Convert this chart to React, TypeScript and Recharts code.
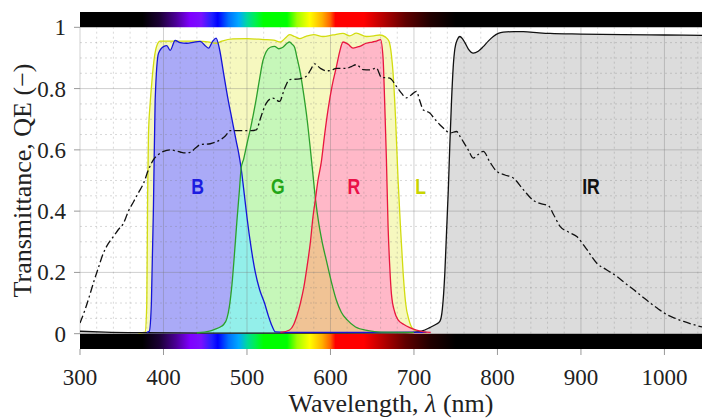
import React from 'react';
import {
  ComposedChart,
  Area,
  Line,
  XAxis,
  YAxis,
  ReferenceArea,
  ReferenceLine,
  ReferenceDot,
} from 'recharts';

// [wavelength nm, transmittance]
const blueFilter: [number, number][] = [
  [380, 0.004], [383, 0.008], [385.5, 0.1], [388, 0.42], [390, 0.76], [394, 0.915],
  [400, 0.937], [404, 0.94], [408, 0.925], [414, 0.957], [420, 0.95], [428, 0.948],
  [437, 0.952], [444, 0.954], [450, 0.94], [454, 0.932], [459, 0.955], [463, 0.965],
  [467, 0.93], [472, 0.85], [477, 0.77], [482, 0.7], [487, 0.63], [490, 0.59],
  [493, 0.54], [497, 0.45], [500, 0.38], [505, 0.28], [510, 0.2], [515, 0.145],
  [521, 0.1], [526, 0.055], [530, 0.025], [534, 0.006], [560, 0.004], [640, 0.004],
  [700, 0.005], [715, 0.004],
];

const greenFilter: [number, number][] = [
  [440, 0.003], [455, 0.008], [462, 0.015], [468, 0.022], [472, 0.03], [476, 0.05],
  [479, 0.09], [482, 0.16], [485, 0.26], [488, 0.37], [491, 0.47], [493, 0.54],
  [496, 0.57], [500, 0.62], [505, 0.68], [510, 0.75], [515, 0.83], [519, 0.89],
  [523, 0.92], [528, 0.935], [533, 0.938], [538, 0.93], [543, 0.935], [548, 0.948],
  [551, 0.952], [554, 0.945], [557, 0.935], [560, 0.9], [564, 0.85], [568, 0.78],
  [572, 0.7], [576, 0.6], [579, 0.52], [582, 0.44], [586, 0.36], [590, 0.3],
  [595, 0.24], [601, 0.17], [607, 0.11], [613, 0.07], [620, 0.045], [630, 0.022],
  [645, 0.01], [660, 0.005], [700, 0.004],
];

const redFilter: [number, number][] = [
  [540, 0.004], [551, 0.012], [556, 0.03], [560, 0.06], [564, 0.1], [568, 0.15],
  [572, 0.22], [576, 0.3], [579, 0.38], [582, 0.44], [585, 0.5], [589, 0.56],
  [593, 0.65], [597, 0.73], [602, 0.81], [607, 0.87], [611, 0.92], [615, 0.952],
  [621, 0.945], [627, 0.932], [635, 0.938], [643, 0.948], [650, 0.952], [655, 0.955],
  [660, 0.96], [663, 0.9], [665, 0.75], [667, 0.57], [669, 0.35], [671, 0.22],
  [673, 0.13], [677, 0.07], [681, 0.045], [688, 0.03], [695, 0.02], [703, 0.012],
  [712, 0.006], [720, 0.004],
];

const lumFilter: [number, number][] = [
  [370, 0.002], [378, 0.005], [380, 0.1], [381, 0.45], [382, 0.65], [384, 0.75],
  [386, 0.82], [389, 0.9], [392, 0.94], [396, 0.955], [405, 0.955], [420, 0.955],
  [440, 0.955], [455, 0.952], [463, 0.948], [470, 0.955], [483, 0.962], [500, 0.963],
  [520, 0.96], [532, 0.958], [540, 0.952], [546, 0.965], [551, 0.976], [557, 0.97],
  [563, 0.963], [570, 0.97], [580, 0.976], [591, 0.97], [603, 0.975], [615, 0.98],
  [623, 0.972], [631, 0.981], [643, 0.97], [652, 0.972], [659, 0.975], [666, 0.968],
  [670, 0.955], [673, 0.91], [675, 0.85], [678, 0.7], [681, 0.5], [684, 0.34],
  [687, 0.2], [690, 0.1], [694, 0.045], [698, 0.018], [705, 0.006], [715, 0.003],
];

const irFilter: [number, number][] = [
  [300, 0.008], [330, 0.005], [380, 0.003], [450, 0.002], [600, 0.002], [690, 0.003],
  [705, 0.006], [713, 0.012], [719, 0.02], [726, 0.03], [731, 0.04], [734, 0.08],
  [737, 0.2], [739, 0.33], [741, 0.46], [743, 0.62], [745, 0.76], [747, 0.87],
  [749, 0.93], [752, 0.96], [755, 0.97], [758, 0.963], [761, 0.95], [765, 0.93],
  [771, 0.916], [777, 0.922], [783, 0.937], [789, 0.955], [795, 0.97], [801, 0.98],
  [807, 0.984], [820, 0.986], [831, 0.986], [850, 0.982], [863, 0.98], [900, 0.978],
  [950, 0.976], [1000, 0.975], [1045, 0.974],
];

const sensorQE: [number, number][] = [
  [300, 0.035], [306, 0.078], [311, 0.12], [316, 0.165], [322, 0.215], [328, 0.263],
  [334, 0.295], [340, 0.317], [346, 0.34], [352, 0.36], [358, 0.4], [364, 0.43],
  [370, 0.46], [376, 0.49], [382, 0.535], [388, 0.568], [394, 0.585], [400, 0.595],
  [408, 0.6], [414, 0.597], [420, 0.593], [426, 0.59], [432, 0.592], [438, 0.605],
  [444, 0.617], [456, 0.62], [462, 0.625], [468, 0.633], [474, 0.645], [480, 0.663],
  [492, 0.663], [505, 0.663], [511, 0.665], [517, 0.71], [523, 0.752], [531, 0.769],
  [539, 0.758], [545, 0.8], [551, 0.829], [563, 0.832], [571, 0.84], [576, 0.86],
  [581, 0.881], [588, 0.866], [595, 0.858], [601, 0.86], [607, 0.866], [619, 0.866],
  [625, 0.872], [631, 0.878], [639, 0.862], [647, 0.861], [655, 0.867], [661, 0.837],
  [671, 0.834], [679, 0.807], [685, 0.785], [691, 0.77], [697, 0.78], [703, 0.791],
  [707, 0.76], [711, 0.731], [719, 0.72], [725, 0.7], [731, 0.682], [737, 0.667],
  [743, 0.655], [751, 0.66], [755, 0.645], [759, 0.627], [765, 0.6], [771, 0.573],
  [777, 0.585], [783, 0.595], [791, 0.56], [799, 0.53], [809, 0.518], [819, 0.508],
  [831, 0.47], [843, 0.435], [851, 0.425], [861, 0.418], [867, 0.39], [875, 0.35],
  [885, 0.332], [895, 0.317], [907, 0.275], [919, 0.23], [931, 0.208], [943, 0.187],
  [953, 0.165], [963, 0.144], [973, 0.122], [983, 0.1], [993, 0.08], [1003, 0.062],
  [1013, 0.05], [1023, 0.04], [1033, 0.031], [1045, 0.022],
];

// where the curves cross each other
const blueGreenCross = 493;
const greenRedCross = 582;

const xTicks = [300, 400, 500, 600, 700, 800, 900, 1000];
const yTicks = [0, 0.2, 0.4, 0.6, 0.8, 1];

const filterTags = [
  { text: 'B', nm: 441, t: 0.483, color: '#1c1ce0' },
  { text: 'G', nm: 537, t: 0.483, color: '#22a517' },
  { text: 'R', nm: 628, t: 0.483, color: '#ea1048' },
  { text: 'L', nm: 708, t: 0.483, color: '#c8d400' },
  { text: 'IR', nm: 912, t: 0.483, color: '#111111' },
];

// colour bar
const spectrumNm = [300, 375, 395, 415, 432, 445, 458, 465, 478, 490, 500, 510, 520, 548, 560, 575, 590, 600, 606, 640, 660, 690, 720, 750, 1045];
const spectrumColors = [
  '#000000', '#000000', '#1a0033', '#4b0096', '#7f00ff', '#7a10ff', '#2020ff', '#0000ff',
  '#0070ff', '#00a8ff', '#00d8a0', '#00f050', '#00ff00', '#00ff00', '#a0ff00', '#ffff00',
  '#ffb000', '#ff6000', '#ff0000', '#ff0000', '#c00000', '#600000', '#200000', '#000000', '#000000',
];

const X_MIN = 300;
const X_MAX = 1045;

const toPoints = (pairs: [number, number][]) => pairs.map(([nm, t]) => ({ nm, t }));

const blueGreenOverlap = [
  ...greenFilter.filter(([nm]) => nm <= blueGreenCross),
  ...blueFilter.filter(([nm]) => nm > blueGreenCross && nm <= 540),
];
const greenRedOverlap = [
  ...redFilter.filter(([nm]) => nm <= greenRedCross),
  ...greenFilter.filter(([nm]) => nm > greenRedCross),
];

const majorX = [300, 400, 500, 600, 700, 800, 900, 1000];
const minorX: number[] = [];
for (let v = 320; v < X_MAX; v += 20) if (v % 100 !== 0) minorX.push(v);
const majorY = [0.2, 0.4, 0.6, 0.8];
const minorY: number[] = [];
for (let i = 1; i < 20; i++) if (i % 4 !== 0) minorY.push(i * 0.05);

const serif = "'Liberation Serif', 'Times New Roman', serif";

const XTick = (props: any) => (
  <text x={props.x} y={props.y} dy="0.71em" textAnchor="middle" fontFamily={serif} fontSize={23} fill="#222">
    {props.payload.value}
  </text>
);

const YTick = (props: any) => (
  <text x={props.x} y={props.y} dy="0.35em" textAnchor="end" fontFamily={serif} fontSize={23} fill="#222">
    {props.payload.value}
  </text>
);

const XTitle = (props: any) => {
  const vb = props.viewBox;
  return (
    <text x={vb.x + vb.width / 2} y={vb.y + 63} textAnchor="middle" fontFamily={serif} fontSize={26} fill="#222">
      Wavelength, <tspan fontStyle="italic">λ</tspan> (nm)
    </text>
  );
};

const YTitle = (props: any) => {
  const vb = props.viewBox;
  const cy = vb.y + vb.height / 2;
  return (
    <text x={31} y={cy} textAnchor="middle" fontFamily={serif} fontSize={26} fill="#222" transform={`rotate(-90, 31, ${cy})`}>
      Transmittance, QE (−)
    </text>
  );
};

// bold condensed tag, squeezed horizontally
const tagLabel = (text: string, color: string) => (props: any) => {
  const vb = props.viewBox;
  return (
    <text
      transform={`translate(${vb.x}, ${vb.y}) scale(0.8, 1)`}
      x={0}
      y={0}
      dy="0.36em"
      textAnchor="middle"
      fontFamily="'Liberation Sans', Arial, sans-serif"
      fontWeight={700}
      fontSize={22}
      fill={color}
    >
      {text}
    </text>
  );
};

const fillArea = (key: string, pairs: [number, number][], color: string) => (
  <Area
    key={key}
    data={toPoints(pairs)}
    dataKey="t"
    type="monotone"
    stroke="none"
    fill={color}
    fillOpacity={1}
    baseValue={0}
    isAnimationActive={false}
  />
);

const curve = (key: string, pairs: [number, number][], color: string, width = 1.3, dash?: string) => (
  <Line
    key={key}
    data={toPoints(pairs)}
    dataKey="t"
    type="monotone"
    stroke={color}
    strokeWidth={width}
    strokeDasharray={dash}
    dot={false}
    activeDot={false}
    isAnimationActive={false}
  />
);

export default function App() {
  return (
    <div style={{ position: 'absolute', left: 0, top: 0, width: 702, height: 418, background: '#fff' }}>
      <ComposedChart width={702} height={418} margin={{ top: 12, right: 0, bottom: 0, left: 0 }}>
        <defs>
          <linearGradient id="spectrum" x1="0" y1="0" x2="1" y2="0">
            {spectrumNm.map((nm, i) => (
              <stop key={nm} offset={(nm - X_MIN) / (X_MAX - X_MIN)} stopColor={spectrumColors[i]} />
            ))}
          </linearGradient>
        </defs>
        <XAxis
          dataKey="nm"
          type="number"
          domain={[X_MIN, X_MAX]}
          ticks={xTicks}
          allowDataOverflow
          height={69}
          axisLine={false}
          tickLine={{ stroke: '#999' }}
          tickSize={6}
          tickMargin={14}
          tick={<XTick />}
          label={<XTitle />}
        />
        <YAxis
          type="number"
          domain={[-0.05, 1.05]}
          ticks={yTicks}
          allowDataOverflow
          width={80}
          axisLine={false}
          tickLine={{ stroke: '#999' }}
          tickSize={6}
          tickMargin={8}
          tick={<YTick />}
          label={<YTitle />}
        />

        {fillArea('lum', lumFilter, '#f6f8bf')}
        {fillArea('ir', irFilter, '#dcdcdc')}
        {fillArea('blue', blueFilter, '#aaaaf7')}
        {fillArea('green', greenFilter, '#c6f7b9')}
        {fillArea('red', redFilter, '#ffb8c8')}
        {fillArea('bg', blueGreenOverlap, '#93efea')}
        {fillArea('gr', greenRedOverlap, '#f0c395')}

        {minorX.map((v) => (
          <ReferenceLine key={`mx${v}`} segment={[{ x: v, y: 0 }, { x: v, y: 1 }]} stroke="rgba(120,120,120,0.28)" strokeDasharray="2 3" />
        ))}
        {minorY.map((v) => (
          <ReferenceLine key={`my${v}`} segment={[{ x: X_MIN, y: v }, { x: X_MAX, y: v }]} stroke="rgba(120,120,120,0.28)" strokeDasharray="2 3" />
        ))}
        {majorX.map((v) => (
          <ReferenceLine key={`Mx${v}`} segment={[{ x: v, y: 0 }, { x: v, y: 1 }]} stroke="rgba(120,120,120,0.35)" />
        ))}
        {majorY.map((v) => (
          <ReferenceLine key={`My${v}`} segment={[{ x: X_MIN, y: v }, { x: X_MAX, y: v }]} stroke="rgba(120,120,120,0.35)" />
        ))}

        <ReferenceArea x1={X_MIN} x2={X_MAX} y1={1} y2={1.05} fill="url(#spectrum)" fillOpacity={1} stroke="none" />
        <ReferenceArea x1={X_MIN} x2={X_MAX} y1={-0.05} y2={0} fill="url(#spectrum)" fillOpacity={1} stroke="none" />

        {curve('lumL', lumFilter, '#d2dc10')}
        {curve('irL', irFilter, '#111111')}
        {curve('blueL', blueFilter, '#1515d8')}
        {curve('greenL', greenFilter, '#2ca02c')}
        {curve('redL', redFilter, '#e8173f')}
        {curve('qeL', sensorQE, '#111111', 1.3, '8 3 2 3')}

        {filterTags.map((tag) => (
          <ReferenceDot
            key={tag.text}
            x={tag.nm}
            y={tag.t}
            r={0}
            fill="none"
            stroke="none"
            label={tagLabel(tag.text, tag.color)}
          />
        ))}
      </ComposedChart>
    </div>
  );
}
